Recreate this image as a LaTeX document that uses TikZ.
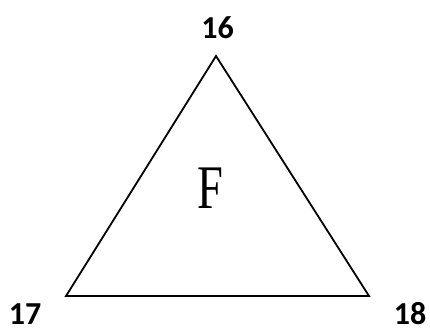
\documentclass[tikz,border=0pt]{standalone}
\usepackage{fontspec}
\setmainfont{Carlito}
\newfontfamily\fserif{Liberation Serif}
\begin{document}
\begin{tikzpicture}[x=1pt,y=-1pt,
  lbl/.style={font=\fontsize{32}{32}\selectfont\bfseries, inner sep=0pt},
  edge/.style={line width=1.8pt, line join=miter}]
\useasboundingbox (0,0) rectangle (430,329);
\coordinate (a) at (216,56);
\coordinate (b) at (66,296);
\coordinate (c) at (369,296);
\draw[edge] (a) -- (b) -- (c) -- cycle;
\node[lbl] (l16) at (217.5,27.5) {16};
\node[lbl] (l17) at (25,314) {17};
\node[lbl] (l18) at (410,314) {18};
\node[inner sep=0pt, xscale=0.75, font=\fontsize{62}{62}\fserif] (f) at (210,188) {F};
\end{tikzpicture}
\end{document}
